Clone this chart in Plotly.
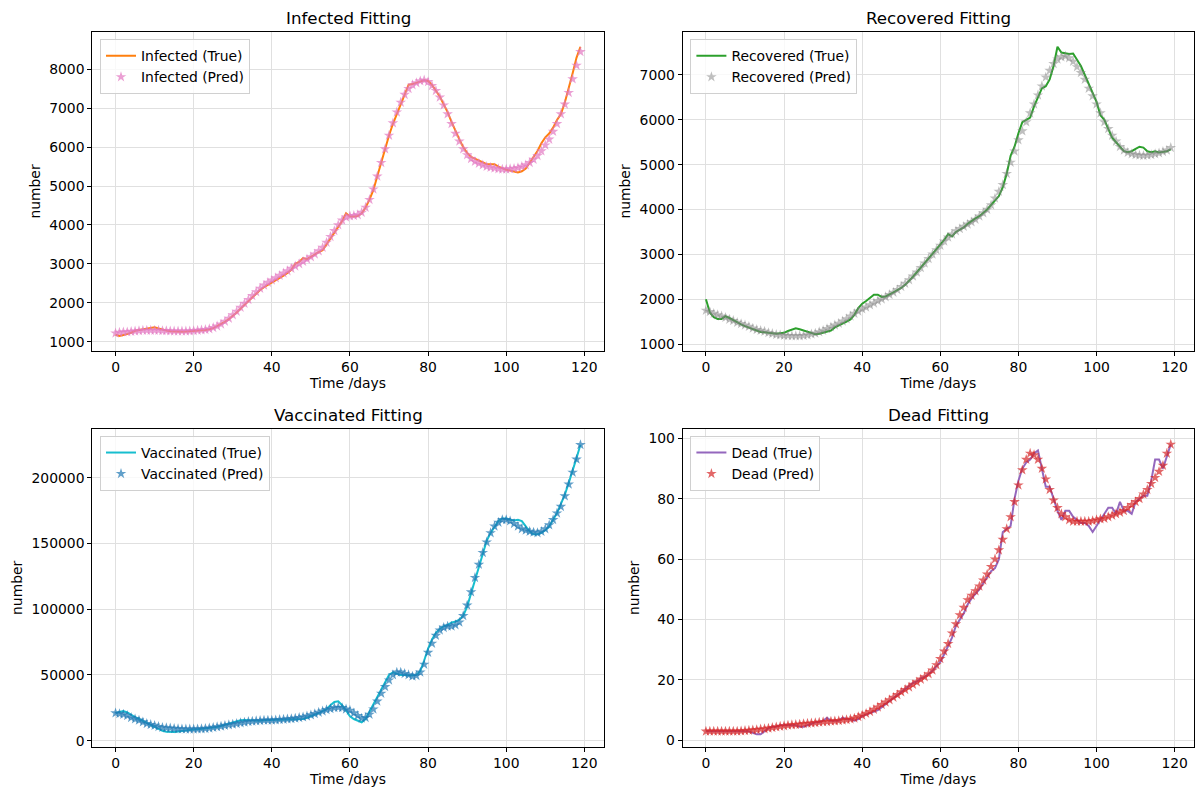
import plotly.graph_objects as go

days = list(range(120))

infected_true = [1180, 1150, 1170, 1200, 1230, 1280, 1300, 1310, 1330, 1350,
                 1370, 1340, 1310, 1290, 1270, 1260, 1255, 1255, 1260, 1265,
                 1270, 1280, 1290, 1300, 1320, 1350, 1400, 1450, 1510, 1580,
                 1660, 1750, 1850, 1950, 2050, 2150, 2250, 2330, 2400, 2460,
                 2500, 2560, 2620, 2700, 2770, 2850, 3000, 3050, 3150, 3120,
                 3180, 3250, 3300, 3350, 3500, 3650, 3800, 3950, 4100, 4300,
                 4220, 4220, 4230, 4300, 4450, 4650, 4900, 5250, 5600, 6000,
                 6300, 6600, 6850, 7050, 7300, 7600, 7620, 7650, 7680, 7720,
                 7700, 7600, 7450, 7300, 7100, 6900, 6650, 6400, 6200, 6000,
                 5850, 5750, 5700, 5650, 5600, 5560, 5560, 5560, 5500, 5450,
                 5420, 5400, 5370, 5350, 5380, 5450, 5600, 5750, 5900, 6100,
                 6250, 6350, 6500, 6700, 6850, 7150, 7500, 7900, 8300, 8580]
infected_pred = [1220, 1240, 1250, 1250, 1260, 1270, 1280, 1290, 1290, 1290,
                 1290, 1290, 1280, 1280, 1275, 1270, 1270, 1270, 1270, 1275,
                 1280, 1290, 1300, 1310, 1330, 1360, 1400, 1450, 1520, 1600,
                 1690, 1780, 1880, 1980, 2080, 2180, 2280, 2370, 2450, 2520,
                 2580, 2640, 2700, 2760, 2820, 2880, 2940, 3000, 3060, 3120,
                 3180, 3250, 3330, 3420, 3550, 3700, 3850, 4000, 4120, 4200,
                 4230, 4240, 4260, 4320, 4450, 4650, 4920, 5250, 5600, 5950,
                 6300, 6620, 6900, 7150, 7350, 7500, 7600, 7650, 7700, 7720,
                 7680, 7580, 7450, 7280, 7080, 6850, 6600, 6350, 6150, 5950,
                 5800, 5700, 5630, 5580, 5540, 5500, 5480, 5460, 5440, 5430,
                 5430, 5440, 5450, 5470, 5500, 5540, 5600, 5680, 5780, 5900,
                 6050, 6200, 6400, 6600, 6850, 7100, 7400, 7750, 8100, 8450]

recovered_true = [2000, 1700, 1600, 1560, 1560, 1620, 1580, 1530, 1480, 1440,
                  1400, 1370, 1340, 1300, 1270, 1260, 1250, 1240, 1230, 1240,
                  1250, 1290, 1320, 1350, 1330, 1300, 1270, 1250, 1220, 1230,
                  1250, 1270, 1300, 1370, 1410, 1450, 1500, 1550, 1650, 1800,
                  1900, 1960, 2020, 2100, 2100, 2050, 2060, 2100, 2150, 2200,
                  2250, 2320, 2400, 2500, 2600, 2700, 2800, 2900, 3000, 3100,
                  3200, 3320, 3450, 3400, 3500, 3550, 3600, 3680, 3750, 3800,
                  3850, 3920, 4000, 4100, 4200, 4300, 4500, 4800, 5200, 5400,
                  5700, 5950, 6000, 6050, 6300, 6500, 6700, 6750, 6900, 7200,
                  7630, 7500, 7480, 7470, 7480, 7350, 7200, 7000, 6800, 6600,
                  6400, 6100, 6000, 5800, 5600, 5500, 5400, 5300, 5280, 5300,
                  5350, 5400, 5380, 5300, 5280, 5300, 5270, 5280, 5300, 5340]
recovered_pred = [1750, 1720, 1680, 1650, 1620, 1590, 1550, 1520, 1480, 1450,
                  1420, 1390, 1350, 1320, 1300, 1280, 1250, 1230, 1210, 1200,
                  1190, 1185, 1180, 1180, 1180, 1185, 1200, 1220, 1240, 1270,
                  1300, 1340, 1380, 1420, 1460, 1510, 1560, 1620, 1680, 1730,
                  1780, 1820, 1870, 1910, 1960, 2000, 2050, 2100, 2150, 2210,
                  2280, 2350, 2430, 2510, 2600, 2700, 2800, 2900, 3000, 3100,
                  3200, 3290, 3380, 3450, 3520, 3570, 3620, 3670, 3720, 3780,
                  3850, 3920, 4000, 4100, 4250, 4400, 4550, 4800, 5050, 5300,
                  5550, 5750, 5950, 6150, 6350, 6550, 6750, 6950, 7100, 7250,
                  7350, 7400, 7420, 7380, 7300, 7180, 7050, 6900, 6700, 6530,
                  6350, 6150, 5950, 5800, 5650, 5520, 5400, 5320, 5270, 5240,
                  5220, 5210, 5200, 5210, 5220, 5240, 5260, 5290, 5320, 5380]

vaccinated_true = [21000, 22000, 22500, 21500, 19500, 18000, 16500, 15000, 13500, 11800,
                   10000, 8700, 7500, 6900, 6500, 6600, 7000, 7500, 8000, 8300,
                   8500, 8700, 9000, 9200, 9500, 10000, 10500, 11200, 12000, 12800,
                   13500, 14500, 15500, 15700, 15500, 15200, 15000, 15200, 15500, 15800,
                   16000, 16000, 16000, 16000, 16000, 16000, 16000, 16200, 16500, 17500,
                   18500, 19800, 21000, 22500, 24000, 27000, 29500, 30000, 27000, 23000,
                   18500, 16500, 15500, 14000, 16500, 22000, 28000, 34000, 39500, 45000,
                   50000, 52000, 51000, 50000, 50000, 49500, 49500, 50000, 53000, 61000,
                   70000, 77000, 82000, 85000, 87000, 88000, 90000, 90500, 92000, 95000,
                   102000, 112000, 122000, 132000, 142000, 152000, 158000, 163000, 167000, 169000,
                   169000, 168000, 167500, 168000, 167000, 163000, 159000, 157000, 157000, 158000,
                   160000, 163000, 168000, 173000, 180000, 187000, 196000, 205000, 215000, 225000]
vaccinated_pred = [21000, 20500, 20000, 19000, 17500, 16500, 15500, 14200, 13000, 12200,
                   11500, 10700, 10000, 9700, 9500, 9200, 9000, 8900, 8800, 8800,
                   8800, 8900, 9000, 9200, 9500, 10000, 10500, 11000, 11500, 12000,
                   12500, 13000, 13500, 14000, 14500, 14800, 15000, 15200, 15500, 15500,
                   15500, 15700, 16000, 16200, 16500, 16700, 17000, 17500, 18000, 18700,
                   19500, 20500, 21500, 22500, 23500, 24300, 25000, 25300, 25000, 24000,
                   23000, 21000, 19000, 17000, 17500, 20000, 24000, 30000, 36000, 41000,
                   46000, 50000, 52000, 52000, 51000, 50000, 49000, 49500, 52000, 58000,
                   67000, 74000, 80000, 84000, 86000, 87000, 87000, 88000, 90000, 95000,
                   103000, 113000, 124000, 134000, 143000, 151000, 158000, 163000, 166000, 168000,
                   168000, 167000, 165000, 163000, 161000, 160000, 159000, 158500, 158000, 159000,
                   161000, 164000, 168000, 173000, 178000, 186000, 195000, 204000, 214000, 225000]

dead_true = [3, 3, 3, 3, 3, 3, 3, 3, 3, 3,
             3, 3, 2.5, 2, 2, 3, 4, 4.5, 4.5, 5,
             5, 5, 5, 5, 4.5, 4.5, 5, 5.5, 6, 6,
             6.5, 7.5, 6.5, 6.5, 6.5, 7.5, 7, 7, 6.5, 7,
             8, 8.5, 9, 9.5, 10, 11, 12, 13, 14, 15,
             16, 17, 18, 19, 19.5, 20.5, 21, 22, 23, 24.5,
             26, 28.5, 31, 34, 38, 40, 42, 45, 47, 48.5,
             50, 52, 54, 56, 57, 60, 69, 70, 71, 80,
             86, 90, 92, 93, 95, 96, 90, 84, 84, 80,
             76, 73, 76, 76, 74, 73, 72, 72, 71, 69,
             71, 73, 75, 77, 77, 75, 79, 76, 76, 75,
             79, 80, 81, 81, 86, 93, 93, 90, 94, 98]
dead_pred = [3, 3, 3, 3, 3, 3, 3, 3, 3, 3.1,
             3.2, 3.3, 3.4, 3.5, 3.7, 3.8, 4, 4.2, 4.4, 4.6,
             4.8, 5, 5.1, 5.2, 5.3, 5.5, 5.6, 5.7, 5.8, 6,
             6.1, 6.2, 6.3, 6.4, 6.5, 6.7, 6.8, 7, 7.3, 7.8,
             8.3, 8.9, 9.5, 10.2, 11, 11.8, 12.6, 13.4, 14.2, 15.1,
             16, 16.8, 17.6, 18.5, 19.3, 20.2, 21, 22, 23.2, 25,
             27, 29.5, 32, 35.5, 38.5, 41.5, 44, 46.5, 48, 49.5,
             51, 53, 55, 57.5, 60, 63, 66.5, 70, 74, 79,
             84.5, 89.5, 93, 95, 94.5, 93, 90, 86.5, 83, 79.5,
             77, 75, 74, 73, 72.5, 72.5, 72.5, 72.5, 72.5, 72.7,
             73, 73.3, 73.5, 74, 74.5, 75, 75.5, 76, 77, 78,
             79, 80, 81.5, 83, 85, 87, 89, 91, 95, 98]

W, H = 1197, 791
FONT = "DejaVu Sans"
FS = 13.9
TFS = 16.7

# panel definitions: name, true, pred, true colour, pred colour, y-range, y dtick
panels = [
    ("Infected", infected_true, infected_pred, "#ff7f0e", "rgba(227,119,194,0.7)", [769, 8951], 1000),
    ("Recovered", recovered_true, recovered_pred, "#2ca02c", "rgba(127,127,127,0.5)", [851, 7952], 1000),
    ("Vaccinated", vaccinated_true, vaccinated_pred, "#17becf", "rgba(31,119,180,0.7)", [-4560, 237000], 50000),
    ("Dead", dead_true, dead_pred, "#9467bd", "rgba(214,39,40,0.7)", [-2.1, 103.1], 20),
]

# pixel boxes of the four axes (left, right, top, bottom)
boxes = [
    (92.3, 603.7, 32.3, 350.7),
    (682.7, 1194.0, 32.3, 350.7),
    (92.3, 603.7, 429.0, 746.7),
    (682.7, 1194.0, 429.0, 746.7),
]

fig = go.Figure()
layout = dict(
    width=W, height=H,
    margin=dict(l=0, r=0, t=0, b=0),
    paper_bgcolor="white", plot_bgcolor="white",
    font=dict(family=FONT, size=FS, color="black"),
    annotations=[],
    showlegend=True,
)

for i, (name, yt, yp, ct, cp, yr, dt) in enumerate(panels):
    k = "" if i == 0 else str(i + 1)
    l, r, t, b = boxes[i]
    xd = [l / W, r / W]
    yd = [1 - b / H, 1 - t / H]
    leg = "legend" + k
    fig.add_trace(go.Scatter(
        x=days, y=yt, mode="lines", name=f"{name} (True)",
        line=dict(color=ct, width=2),
        xaxis="x" + k, yaxis="y" + k, legend=leg,
    ))
    fig.add_trace(go.Scatter(
        x=days, y=yp, mode="markers", name=f"{name} (Pred)",
        marker=dict(symbol="star", size=8, color=cp, line=dict(width=0)),
        xaxis="x" + k, yaxis="y" + k, legend=leg,
    ))
    axis_common = dict(
        showline=True, linecolor="black", linewidth=1, mirror=True,
        ticks="outside", ticklen=4, tickwidth=1, tickcolor="black",
        showgrid=True, gridcolor="#e0e0e0", gridwidth=1,
        zeroline=False, automargin=False,
        tickfont=dict(family=FONT, size=FS, color="black"),
    )
    layout["xaxis" + k] = dict(
        axis_common, domain=xd, range=[-5.95, 124.95],
        tickmode="linear", tick0=0, dtick=20,
        anchor="y" + k,
        title=dict(text="Time /days", font=dict(family=FONT, size=FS), standoff=3),
    )
    layout["yaxis" + k] = dict(
        axis_common, domain=yd, range=yr,
        tickmode="linear", tick0=0, dtick=dt, tickformat="d",
        anchor="x" + k,
        title=dict(text="number", font=dict(family=FONT, size=FS), standoff=5),
    )
    layout[leg] = dict(
        x=(l + 7.7) / W, y=1 - (t + 7) / H,
        xanchor="left", yanchor="top",
        bgcolor="rgba(255,255,255,0.8)", bordercolor="#d0d0d0", borderwidth=1,
        font=dict(family=FONT, size=FS, color="black"),
        tracegroupgap=0,
    )
    layout["annotations"].append(dict(
        text=f"{name} Fitting", x=(l + r) / 2 / W, y=1 - (t - 14) / H,
        xref="paper", yref="paper", xanchor="center", yanchor="middle",
        showarrow=False, font=dict(family=FONT, size=TFS, color="black"),
    ))

fig.update_layout(**layout)
fig.write_html(
    "out.html",
    config={"displayModeBar": False},
    post_script="document.body.style.margin='0';document.body.style.padding='0';",
)
